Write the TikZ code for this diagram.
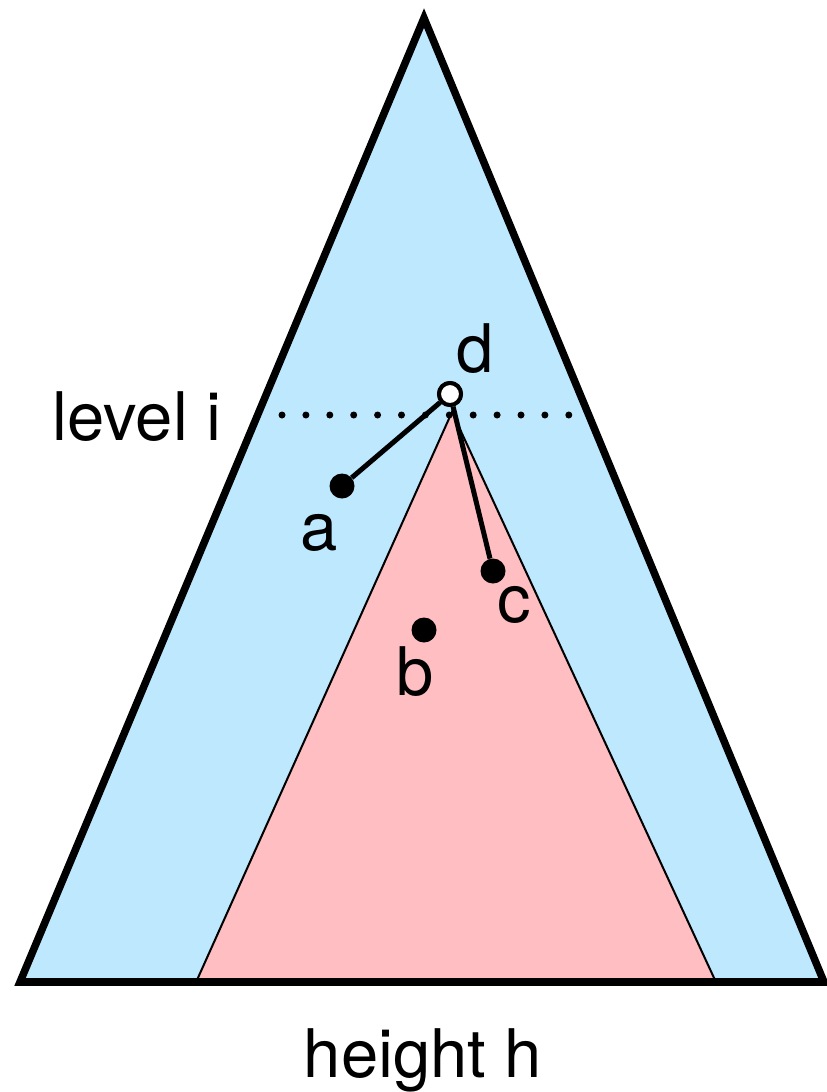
\documentclass[tikz,border=0pt]{standalone}
\usepackage{fontspec}
\setmainfont{TeX Gyre Heros}
\definecolor{skyfill}{HTML}{BDE8FE}
\definecolor{pinkfill}{HTML}{FEBEC2}
\begin{document}
\begin{tikzpicture}[x=1pt,y=-1pt,
  lbl/.style={font=\fontsize{67}{80}\selectfont, inner sep=0pt, anchor=base},
  dotnode/.style={circle, fill=black, inner sep=0pt, minimum size=25pt},
  opennode/.style={circle, draw=black, fill=white, line width=4pt, inner sep=0pt, minimum size=22pt},
  edge/.style={line width=5pt},
  bigtri/.style={fill=skyfill, draw=black, line width=7.5pt, line join=miter},
  subtri/.style={fill=pinkfill, draw=black, line width=2pt, line join=miter},
  levelline/.style={line width=7pt, line cap=round, dash pattern=on 0pt off 23.9pt}]
\useasboundingbox (0,0) rectangle (827,1092);
% big triangle
\coordinate (T1) at (424,18);
\coordinate (T2) at (20,982);
\coordinate (T3) at (824,982);
\draw[bigtri] (T1) -- (T2) -- (T3) -- cycle;
% subtree triangle
\coordinate (P1) at (452,412);
\coordinate (P2) at (197,980);
\coordinate (P3) at (715,980);
\draw[subtri] (P1) -- (P2) -- (P3) -- cycle;
% redraw bottom edge of big triangle over pink
\draw[line width=7.5pt] (T2) -- (T3);
% level line
\coordinate (L1) at (282,415);
\coordinate (L2) at (570,415);
\draw[levelline] (L1) -- (L2);
% nodes
\node[dotnode] (a) at (342,486) {};
\node[dotnode] (c) at (493,571) {};
\node[dotnode] (b) at (424,630) {};
\node[opennode] (d) at (450,394) {};
\draw[edge] (d) -- (a);
\draw[edge] (d) -- (c);
\node[opennode] at (d) {};
% labels
\node[lbl] (dl) at (475,372) {d};
\node[lbl] (al) at (319,550) {a};
\node[lbl] (cl) at (514,622) {c};
\node[lbl] (bl) at (415,695) {b};
\node[lbl] (lvl) at (137,440) {level i};
\node[lbl] (hh) at (423,1077) {height h};
\end{tikzpicture}
\end{document}
